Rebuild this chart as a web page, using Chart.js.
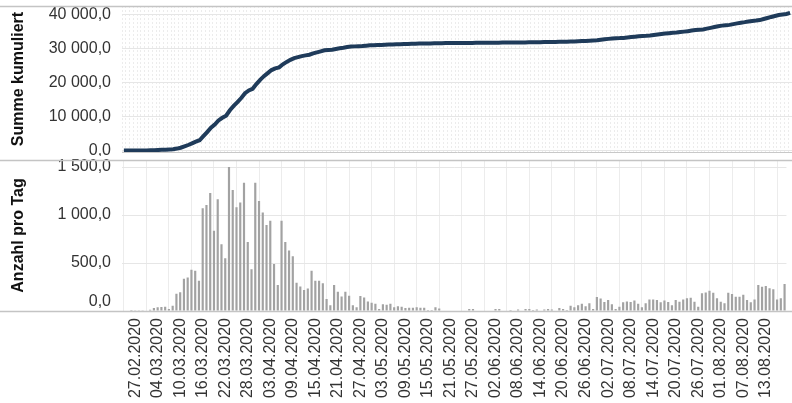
<!DOCTYPE html>
<html>
<head>
<meta charset="utf-8">
<script src="https://cdn.jsdelivr.net/npm/chart.js@4/dist/chart.umd.min.js"></script>
<style>
    body { margin: 0; background: #fff; }
    #topBox { position: absolute; left: 0; top: 0; width: 792px; height: 156px; }
    #bottomBox { position: absolute; left: 0; top: 156px; width: 792px; height: 247px; }
</style>
</head>
<body>
<div id="topBox"><canvas id="sumChart" width="792" height="156"></canvas></div>
<div id="bottomBox"><canvas id="dayChart" width="792" height="247"></canvas></div>
<script>
// Tage ab 24.02.2020
var firstDay = '2020-02-24';
var dayCount = 177;

var tickLabels = ['27.02.2020','04.03.2020','10.03.2020','16.03.2020','22.03.2020','28.03.2020',
    '03.04.2020','09.04.2020','15.04.2020','21.04.2020','27.04.2020','03.05.2020','09.05.2020',
    '15.05.2020','21.05.2020','27.05.2020','02.06.2020','08.06.2020','14.06.2020','20.06.2020',
    '26.06.2020','02.07.2020','08.07.2020','14.07.2020','20.07.2020','26.07.2020','01.08.2020',
    '07.08.2020','13.08.2020'];

var perDay = [
    0, 0, 1, 2, 2, 3, 5, 12, 30, 40,
    42, 45, 20, 55, 180, 195, 335, 350, 430, 420,
    315, 1070, 1105, 1230, 835, 1165, 695, 550, 1500, 1260,
    1080, 1130, 1335, 720, 435, 1335, 1145, 1025, 895, 940,
    490, 270, 940, 720, 630, 570, 295, 255, 220, 235,
    420, 315, 315, 290, 125, 60, 270, 200, 150, 200,
    160, 60, 40, 155, 140, 100, 85, 75, 20, 70,
    65, 75, 40, 50, 45, 30, 35, 35, 40, 35,
    35, 10, 10, 40, 25, 5, 5, 5, 5, 5,
    5, 5, 20, 20, 5, 5, 5, 5, 5, 20,
    20, 5, 5, 10, 5, 15, 5, 20, 20, 10,
    15, 5, 15, 20, 15, 5, 30, 20, 10, 55,
    40, 60, 75, 50, 80, 20, 145, 130, 95, 115,
    70, 20, 45, 90, 100, 95, 110, 75, 40, 80,
    120, 120, 115, 90, 110, 95, 60,
    115, 97, 121, 132, 139, 97, 45, 184, 194, 212,
    191, 132, 97, 80, 191, 177, 149, 149, 170, 115,
    90, 120, 270, 253, 260, 236, 226, 121, 132, 281
];

var cumulated = [
    0, 0, 0, 5, 10, 15, 20, 40, 80, 130,
    180, 230, 280, 350, 550, 800, 1200, 1600, 2100, 2600,
    3000, 4200, 5400, 6700, 7600, 8800, 9600, 10200, 11800, 13100,
    14200, 15400, 16800, 17600, 18100, 19500, 20700, 21800, 22700, 23600,
    24100, 24400, 25300, 26000, 26600, 27100, 27400, 27700, 27900, 28100,
    28500, 28800, 29100, 29400, 29500, 29550, 29800, 30000, 30150, 30350,
    30500, 30550, 30600, 30650, 30750, 30850, 30900, 30950, 30980, 31030,
    31080, 31120, 31160, 31200, 31240, 31270, 31300, 31330, 31360, 31380,
    31400, 31420, 31440, 31460, 31490, 31510, 31520, 31530, 31535, 31540,
    31545, 31550, 31560, 31580, 31600, 31605, 31610, 31615, 31620, 31640,
    31660, 31670, 31680, 31690, 31700, 31715, 31720, 31740, 31760, 31770,
    31785, 31800, 31820, 31840, 31860, 31890, 31910, 31920, 31970,
    32000, 32050, 32100, 32150, 32220, 32280, 32350,
    32500, 32640, 32750, 32870, 32950, 32980, 33040,
    33150, 33270, 33390, 33520, 33610, 33660, 33760,
    33900, 34050, 34190, 34300, 34430, 34550, 34620,
    34760, 34880, 35020, 35180, 35340, 35460, 35520,
    35750, 35990, 36250, 36480, 36640, 36760, 36860,
    37090, 37300, 37480, 37660, 37870, 38010, 38120,
    38260, 38580, 38880, 39190, 39470, 39740, 39880, 40040, 40370
];

var sumTicks = [0, 10000, 20000, 30000, 40000];
var dayTicks = [0, 500, 1000, 1500];

// Datumsliste dd.mm.yyyy
var days = [];
var d0 = new Date(firstDay + 'T00:00:00Z');
for (var i = 0; i < dayCount; i++) {
    var d = new Date(d0.getTime() + i * 86400000);
    var dd = ('0' + d.getUTCDate()).slice(-2);
    var mm = ('0' + (d.getUTCMonth() + 1)).slice(-2);
    days.push(dd + '.' + mm + '.' + d.getUTCFullYear());
}

function deNumber(v) {
    var parts = Math.abs(v).toFixed(1).split('.');
    var intPart = parts[0].replace(/\B(?=(\d{3})+(?!\d))/g, ' ');
    return (v < 0 ? '-' : '') + intPart + ',' + parts[1];
}

var fontFamily = '"Liberation Sans", Arial, Helvetica, sans-serif';
var gridColor = '#ececec';

// graue Rahmenlinien ueber die ganze Breite
var frameLines = {
    id: 'frameLines',
    afterDraw: function(chart, args, opts) {
        var ctx = chart.ctx;
        var area = chart.chartArea;
        ctx.save();
        ctx.strokeStyle = '#c4c4c4';
        ctx.lineWidth = 1.5;
        ctx.beginPath();
        ctx.moveTo(0, area.top + 0.5);
        ctx.lineTo(chart.width, area.top + 0.5);
        if (opts.bottom) {
            ctx.moveTo(0, area.bottom + 0.5);
            ctx.lineTo(chart.width, area.bottom + 0.5);
        }
        ctx.stroke();
        ctx.restore();
    }
};

function yAxis(title, ticks, min, max, liftZero) {
    return {
        min: min,
        max: max,
        afterFit: function(scale) {
            scale.width = 122;
            scale.paddingTop = 0;
            scale.paddingBottom = 0;
        },
        afterBuildTicks: function(scale) {
            scale.ticks = ticks.map(function(v) { return { value: v }; });
        },
        border: { display: false },
        grid: { color: '#e6e6e6', drawTicks: false },
        ticks: {
            padding: 11,
            color: '#333',
            font: { family: fontFamily, size: 16 },
            callback: function(v) {
                // "0,0" sitzt unten etwas hoeher
                if (liftZero && v === 0) return [deNumber(v), ''];
                return deNumber(v);
            }
        },
        title: {
            display: true,
            text: title,
            color: '#111',
            padding: { top: 9, bottom: 0 },
            font: { family: fontFamily, size: 16, weight: 'bold' }
        }
    };
}

var sumChart = new Chart(document.getElementById('sumChart').getContext('2d'), {
    type: 'line',
    data: {
        labels: days,
        datasets: [{
            data: cumulated,
            borderColor: '#1f3b5a',
            borderWidth: 4,
            pointRadius: 0,
            tension: 0,
            fill: false
        }]
    },
    options: {
        responsive: false,
        animation: false,
        devicePixelRatio: 1,
        layout: { padding: { left: 0, right: 0, top: 6, bottom: 4 } },
        plugins: { legend: { display: false }, tooltip: { enabled: false }, frameLines: { bottom: false } },
        scales: {
            x: {
                offset: true,
                grid: { color: gridColor, offset: true, drawTicks: false },
                border: { display: true, color: '#c8c8c8', dash: [2, 2] },
                ticks: { display: false }
            },
            y: yAxis('Summe kumuliert', sumTicks, -450, 42400, false)
        }
    },
    plugins: [frameLines]
});

var dayChart = new Chart(document.getElementById('dayChart').getContext('2d'), {
    type: 'bar',
    data: {
        labels: days,
        datasets: [{
            data: perDay,
            backgroundColor: '#a2a2a2',
            borderColor: '#8e8e8e',
            borderWidth: 0,
            barPercentage: 0.58,
            categoryPercentage: 1.0
        }]
    },
    options: {
        responsive: false,
        animation: false,
        devicePixelRatio: 1,
        layout: { padding: { left: 0, right: 0, top: 4, bottom: 0 } },
        plugins: { legend: { display: false }, tooltip: { enabled: false }, frameLines: { bottom: true } },
        scales: {
            x: {
                offset: true,
                afterFit: function(scale) { scale.height = 92; },
                grid: { color: gridColor, offset: true, drawTicks: false },
                border: { display: false },
                ticks: {
                    autoSkip: false,
                    minRotation: 90,
                    maxRotation: 90,
                    padding: 7,
                    color: '#333',
                    font: { family: fontFamily, size: 16 },
                    callback: function(value) {
                        var label = this.getLabelForValue(value);
                        return tickLabels.indexOf(label) >= 0 ? label : null;
                    }
                }
            },
            y: yAxis('Anzahl pro Tag', dayTicks, 0, 1573, true)
        }
    },
    plugins: [frameLines]
});
</script>
</body>
</html>
